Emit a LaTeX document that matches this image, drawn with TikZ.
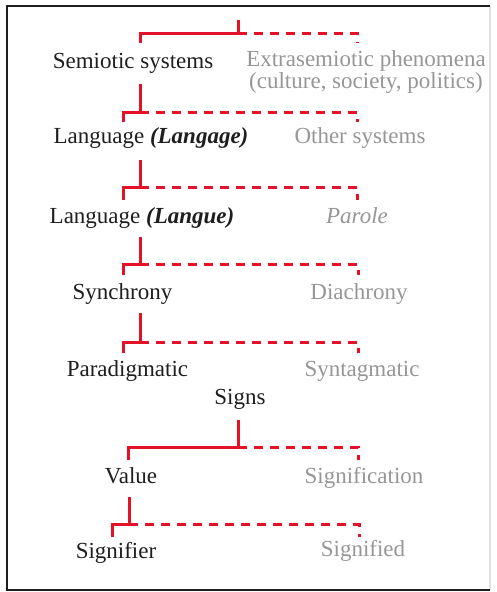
\documentclass[tikz,border=0pt]{standalone}
\usepackage{fontspec}
\setmainfont{Liberation Serif}
\definecolor{brred}{RGB}{228,18,40}
\definecolor{txtdark}{RGB}{30,30,30}
\definecolor{txtgray}{RGB}{150,150,150}
\definecolor{framedark}{RGB}{30,30,30}
\definecolor{framelight}{RGB}{225,225,225}
\begin{document}
\begin{tikzpicture}[x=1pt,y=-1pt,
  lbl/.style={inner sep=0pt, font=\fontsize{23}{20}\selectfont, anchor=base},
  mainlbl/.style={lbl, text=txtdark},
  altlbl/.style={lbl, text=txtgray},
  solidln/.style={draw=brred, line width=3pt},
  dashln/.style={draw=brred, line width=3pt, dash pattern=on 9pt off 7pt}]
\useasboundingbox (0,0) rectangle (496,592);
% frame
\draw[framelight, line width=1.5pt] (490,6) -- (490,590);
\draw[framedark, line width=2pt] (490,6) -- (7,6) -- (7,590) -- (490,590);

% labels
\node[mainlbl] (semio) at (133,68) {Semiotic systems};
\node[altlbl, align=center, anchor=center] (extra) at (366,72) {Extrasemiotic phenomena\\(culture, society, politics)};
\node[mainlbl] (langage) at (151,143) {Language \textbf{\textit{(Langage)}}};
\node[altlbl] (other) at (360,143) {Other systems};
\node[mainlbl] (langue) at (142,223) {Language \textbf{\textit{(Langue)}}};
\node[altlbl] (parole) at (357,223) {\textit{Parole}};
\node[mainlbl] (sync) at (122.5,299) {Synchrony};
\node[altlbl] (diac) at (359,299) {Diachrony};
\node[mainlbl] (para) at (127.5,376) {Paradigmatic};
\node[altlbl] (synt) at (362,376) {Syntagmatic};
\node[mainlbl] (signs) at (240,404) {Signs};
\node[mainlbl] (value) at (131,483) {Value};
\node[altlbl] (signif) at (364,483) {Signification};
\node[mainlbl] (signifier) at (116,558) {Signifier};
\node[altlbl] (signified) at (363,556) {Signified};

% bracket coordinates
\coordinate (t1) at (238,20);  \coordinate (j1) at (238,33);  \coordinate (l1) at (140,43);  \coordinate (r1) at (357,43);
\coordinate (t2) at (140,84);  \coordinate (j2) at (140,112); \coordinate (l2) at (123,122); \coordinate (r2) at (357,122);
\coordinate (t3) at (140,160); \coordinate (j3) at (140,187); \coordinate (l3) at (123,200); \coordinate (r3) at (357,200);
\coordinate (t4) at (140,237); \coordinate (j4) at (140,264); \coordinate (l4) at (123,275); \coordinate (r4) at (358,275);
\coordinate (t5) at (140,313); \coordinate (j5) at (140,342); \coordinate (l5) at (123,353); \coordinate (r5) at (358,353);
\coordinate (t6) at (238,420); \coordinate (j6) at (238,447); \coordinate (l6) at (128,460); \coordinate (r6) at (358,460);
\coordinate (t7) at (129,497); \coordinate (j7) at (129,524); \coordinate (l7) at (112,537); \coordinate (r7) at (359,537);

\foreach \i in {1,...,7}{
  \draw[solidln] (t\i) -- (j\i);
  \draw[solidln] (l\i) |- (j\i);
  \draw[dashln] (j\i) -| (r\i);
}
\end{tikzpicture}
\end{document}
